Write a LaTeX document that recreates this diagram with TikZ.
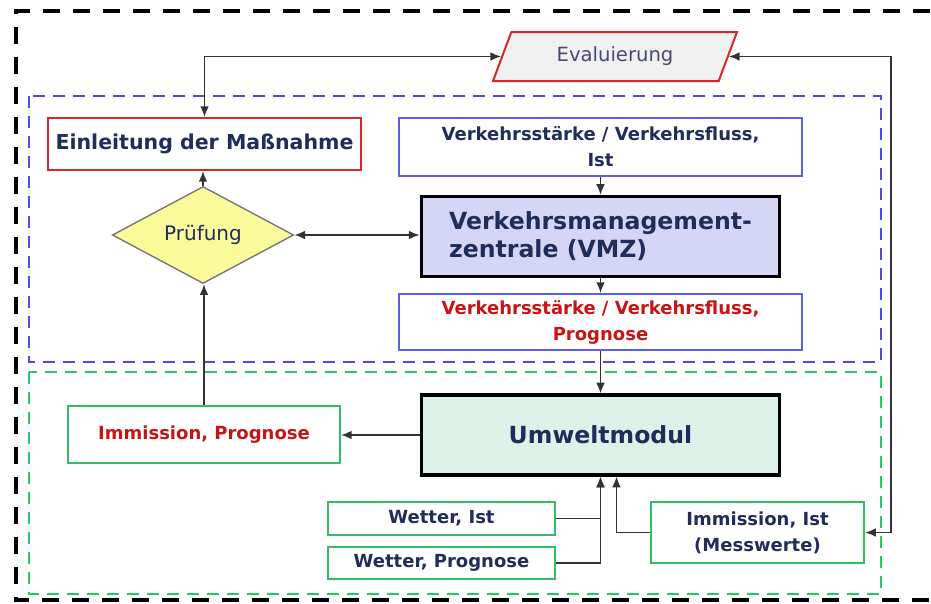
\documentclass[tikz,border=0pt]{standalone}
\usepackage{fontspec}
\setmainfont{DejaVu Sans}
\usetikzlibrary{shapes.geometric,arrows.meta,positioning}
\definecolor{navy}{RGB}{31,45,90}
\definecolor{redtxt}{RGB}{200,20,20}
\definecolor{boxred}{RGB}{214,40,40}
\definecolor{boxblue}{RGB}{95,95,230}
\definecolor{boxgreen}{RGB}{50,190,100}
\definecolor{dashblue}{RGB}{75,75,235}
\definecolor{dashgreen}{RGB}{40,200,100}
\definecolor{vmzfill}{RGB}{213,213,246}
\definecolor{umfill}{RGB}{221,242,232}
\definecolor{pruefill}{RGB}{250,250,155}
\definecolor{evalfill}{RGB}{241,241,241}
\tikzset{
	infobox/.style={
		rectangle,
		draw,
		line width=1.5pt,
		fill=white,
		inner sep=2pt,
		align=center,
		font=\bfseries\fontsize{13.5}{19.5}\selectfont
	},
	centralbox/.style={
		rectangle,
		draw=black,
		line width=2.4pt,
		minimum width=269pt,
		minimum height=60pt,
		text=navy,
		font=\bfseries\fontsize{17.7}{21}\selectfont
	}
}

\begin{document}
\begin{tikzpicture}[x=0.75pt, y=-0.75pt]
			\tikzstyle{connect}=[line width=1.2pt, draw=black!80, >={Latex[length=8pt,width=6.5pt]}]
			\tikzstyle{frame}=[line width=1.8pt, dash pattern=on 9pt off 6pt]
			\useasboundingbox (0,0) rectangle (931,603);
			\clip (0,0) rectangle (931,603);
			
			% frames
			\draw [line width=3pt, dash pattern=on 12.75pt off 9.75pt] (960,11) -- (15.5,11) -- (15.5,600) -- (960,600);
			\draw [frame, draw=dashblue] (29,96) rectangle (881,362);
			\draw [frame, draw=dashgreen] (29,372) rectangle (881,594);
			
			% upper part
			\node[trapezium, trapezium left angle=46, trapezium right angle=134, trapezium stretches body, draw=boxred, line width=1.5pt, fill=evalfill, minimum width=183pt, minimum height=36.75pt, inner sep=0pt, text=navy!85, font=\fontsize{14.7}{17}\selectfont] (eval) at (615,56.5) {Evaluierung};
			\node[infobox, draw=boxred, text=navy, minimum width=234.75pt, minimum height=39pt, font=\bfseries\fontsize{15.4}{18}\selectfont] (einl) at (204.5,144) {Einleitung der Maßnahme};
			\node[infobox, draw=boxblue, text=navy, minimum width=302pt, minimum height=43.5pt] (vist) at (600.5,147) {Verkehrsstärke / Verkehrsfluss,\\Ist};
			\node[centralbox, fill=vmzfill, align=left] (vmz) at (600.5,236.5) {Verkehrsmanagement-\\zentrale (VMZ)};
			\node[diamond, draw=black!55, line width=1pt, fill=pruefill, minimum width=136pt, minimum height=56pt, inner sep=0pt, text=navy, font=\fontsize{15}{17}\selectfont] (pruef) at (203,235) {Prüfung};
			\node[infobox, draw=boxblue, text=redtxt, minimum width=302pt, minimum height=42pt] (vprog) at (600.5,322) {Verkehrsstärke / Verkehrsfluss,\\Prognose};
			
			% lower part
			\node[centralbox, fill=umfill] (umwelt) at (600.5,435) {Umweltmodul};
			\node[infobox, draw=boxgreen, text=redtxt, minimum width=204pt, minimum height=42.75pt] (iprog) at (204,434.5) {Immission, Prognose};
			\node[infobox, draw=boxgreen, text=navy, minimum width=170pt, minimum height=24.75pt] (wist) at (441.5,518.5) {Wetter, Ist};
			\node[infobox, draw=boxgreen, text=navy, minimum width=170pt, minimum height=24pt] (wprog) at (441.5,563) {Wetter, Prognose};
			\node[infobox, draw=boxgreen, text=navy, minimum width=160pt, minimum height=45.75pt] (iist) at (757.5,532.5) {Immission, Ist\\(Messwerte)};
			
			% connectors
			\draw [connect, <->] (einl.north) |- (eval);
			\draw [connect, <->] (iist.east) -- ++(26,0) |- (eval);
			\draw [connect, ->] (pruef.north) -- (pruef.north |- einl.south);
			\draw [connect, <->] (pruef.east) -- (pruef.east -| vmz.west);
			\draw [connect, ->] (iprog.north) -- (iprog.north |- pruef.south);
			\draw [connect, ->] (vist.south) -- (vmz.north);
			\draw [connect, ->] (vmz.south) -- (vprog.north);
			\draw [connect, ->] (vprog.south) -- (umwelt.north);
			\draw [connect, ->] (umwelt.west) -- (umwelt.west -| iprog.east);
			\draw [connect, ->] (wist.east) -| (umwelt.south);
			\draw [connect, ->] (wprog.east) -| (umwelt.south);
			\draw [connect, ->] (iist.west) -| ([xshift=12pt]umwelt.south);
			
\end{tikzpicture}
\end{document}
